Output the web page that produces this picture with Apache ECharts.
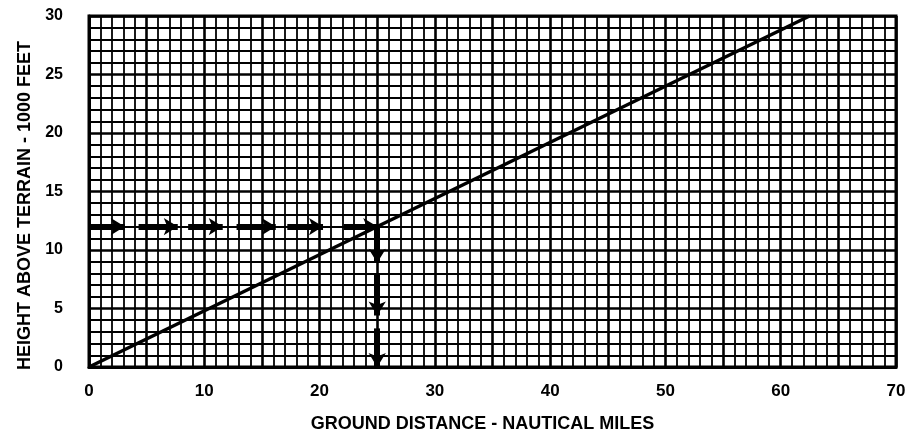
<!DOCTYPE html>
<html>
<head>
    <meta charset="utf-8">
    <title>Height vs ground distance</title>
    <script src="https://cdn.jsdelivr.net/npm/echarts@6/dist/echarts.min.js"></script>
    <style>
        html, body { margin: 0; padding: 0; background: #fff; }
        #chart { width: 907px; height: 434px; }
    </style>
</head>
<body>
<div id="chart"></div>
<script>
    // slope line: ground distance (NM) vs height (1000 ft)
    var slopeLine = [[0, 0], [62.5, 30]];

    // dashed arrow path: [from, to]
    var arrowSegs = [
        [[0, 12], [3.1, 12]],
        [[4.3, 12], [7.7, 12]],
        [[8.6, 12], [11.6, 12]],
        [[12.8, 12], [16.2, 12]],
        [[17.2, 12], [20.3, 12]],
        [[22.1, 12], [25, 12]],
        [[25, 12], [25, 8.9]],
        [[25, 7.9], [25, 4.4]],
        [[25, 3.3], [25, 0]]
    ];

    var xTicks = [0, 10, 20, 30, 40, 50, 60, 70];
    var yTicks = [0, 5, 10, 15, 20, 25, 30];

    var chart = echarts.init(document.getElementById('chart'));
    var font = 'Liberation Sans, Arial, sans-serif';

    var option = {
        animation: false,
        grid: {
            left: 89, right: 11, top: 16, bottom: 67,
            outerBoundsMode: 'none',
            show: true, borderColor: '#000', borderWidth: 3
        },
        xAxis: {
            type: 'value', min: 0, max: 70, interval: 5,
            name: 'GROUND DISTANCE - NAUTICAL MILES',
            nameLocation: 'middle', nameGap: 48,
            nameTextStyle: {
                fontFamily: font, fontWeight: 'bold', fontSize: 18, color: '#000',
                padding: [0, 20, 0, 0]
            },
            axisLine: {lineStyle: {color: '#000', width: 3}},
            axisTick: {show: false},
            axisLabel: {
                margin: 16, fontFamily: font, fontWeight: 'bold', fontSize: 17, color: '#000',
                formatter: function (v) { return xTicks.indexOf(v) >= 0 ? String(v) : ''; }
            },
            splitLine: {lineStyle: {color: '#000', width: 2.6}},
            minorTick: {show: false, splitNumber: 5},
            minorSplitLine: {show: true, lineStyle: {color: '#000', width: 1.8}}
        },
        yAxis: {
            type: 'value', min: 0, max: 30, interval: 5,
            name: 'HEIGHT ABOVE TERRAIN - 1000 FEET',
            nameLocation: 'middle', nameGap: 52, nameRotate: 90,
            nameTextStyle: {
                fontFamily: font, fontWeight: 'bold', fontSize: 18, color: '#000',
                padding: [0, 28, 0, 0]
            },
            axisLine: {show: true, lineStyle: {color: '#000', width: 3}},
            axisTick: {show: false},
            axisLabel: {
                margin: 26, fontFamily: font, fontWeight: 'bold', fontSize: 16, color: '#000',
                formatter: function (v) { return yTicks.indexOf(v) >= 0 ? String(v) : ''; }
            },
            splitLine: {lineStyle: {color: '#000', width: 2.6}},
            minorTick: {show: false, splitNumber: 5},
            minorSplitLine: {show: true, lineStyle: {color: '#000', width: 1.8}}
        },
        series: [
            {
                type: 'line',
                data: slopeLine,
                symbol: 'none',
                lineStyle: {color: '#000', width: 3.5}
            },
            {
                type: 'line',
                data: [],
                markLine: {
                    silent: true,
                    symbol: ['none', 'arrow'],
                    symbolSize: [13, 14],
                    label: {show: false},
                    lineStyle: {color: '#000', width: 6, type: 'solid'},
                    data: arrowSegs.map(function (s) {
                        return [{coord: s[0]}, {coord: s[1]}];
                    })
                }
            }
        ]
    };
    chart.setOption(option);
</script>
</body>
</html>
